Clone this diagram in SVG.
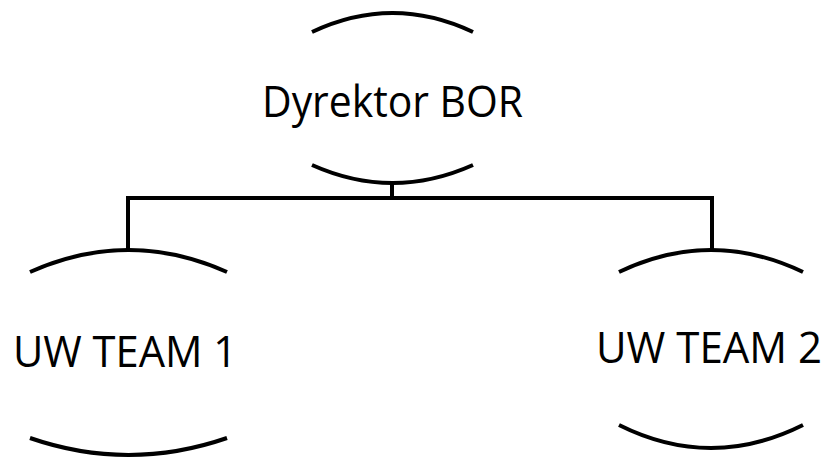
<svg xmlns="http://www.w3.org/2000/svg" width="832" height="459" viewBox="0 0 832 459">
<style>
.arc{fill:none;stroke:#000;stroke-width:4}
.conn{fill:none;stroke:#000;stroke-width:4}
.lbl{font-family:"Open Sans","Noto Sans",sans-serif;font-size:44px;fill:#000}
</style>
<rect width="832" height="459" fill="#fff"/>
<g id="connectors">
<path class="conn" d="M392,183 V198 M128,198 H712 M128,196 V250 M712,196 V250"/>
</g>
<g id="node-dyrektor">
<path class="arc" d="M312,32 Q392.5,-6 473,32"/>
<path class="arc" d="M312,165 Q392.5,201 473,165"/>
<text class="lbl" x="262" y="117" font-size="45" textLength="261" lengthAdjust="spacingAndGlyphs">Dyrektor BOR</text>
</g>
<g id="node-team1">
<path class="arc" d="M30,272 Q128.5,228 227,272"/>
<path class="arc" d="M30,438 Q128.5,472 227,438"/>
<text class="lbl" x="13" y="367" textLength="224" lengthAdjust="spacingAndGlyphs">UW TEAM 1</text>
</g>
<g id="node-team2">
<path class="arc" d="M619,272 Q711,228 803,272"/>
<path class="arc" d="M619,425 Q711,471 803,425"/>
<text class="lbl" x="596" y="363" font-size="42" textLength="226" lengthAdjust="spacingAndGlyphs">UW TEAM 2</text>
</g>
</svg>
